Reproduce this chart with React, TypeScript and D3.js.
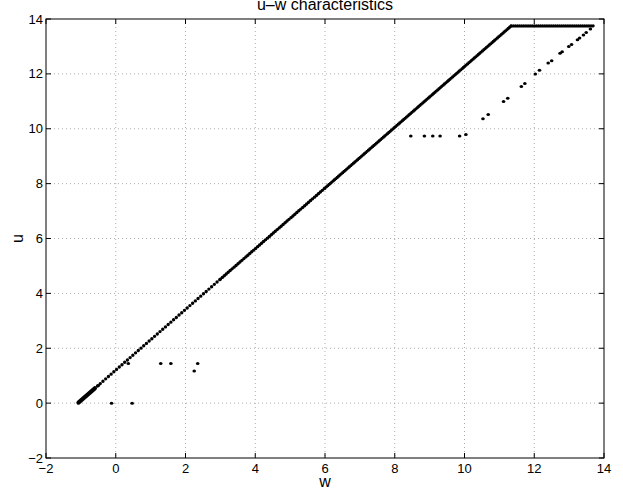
import React from "react";
import * as d3 from "d3";

const W_TICKS = [-2, 0, 2, 4, 6, 8, 10, 12, 14];
const U_TICKS = [-2, 0, 2, 4, 6, 8, 10, 12, 14];

// main characteristic (polyline knots)
const mainW = [-1.07, -0.6, 3.0, 6.0, 11.34, 13.7];
const mainU = [0.02, 0.54, 4.52, 7.84, 13.75, 13.75];

// scattered points
const scatterW = [-0.12, 0.47, 0.36, 1.29, 1.58, 2.25, 2.35, -0.5, 8.46, 8.85, 9.09, 9.3, 9.86, 10.04, 10.53, 10.68, 11.12, 11.24, 11.63, 11.73, 12.03, 12.15, 12.4, 12.5, 12.74, 12.8, 12.99, 13.07, 13.24, 13.3, 13.41, 13.49, 13.61];
const scatterU = [0, 0, 1.44, 1.44, 1.44, 1.17, 1.44, 0.64, 9.74, 9.74, 9.74, 9.74, 9.74, 9.79, 10.36, 10.52, 10.99, 11.11, 11.54, 11.65, 12.0, 12.13, 12.4, 12.48, 12.75, 12.81, 13.0, 13.07, 13.24, 13.31, 13.42, 13.51, 13.64];

const SEG_STYLE = [
  { w: 4.2, dash: "none" },
  { w: 3.4, dash: "0,3.6" },
  { w: 3.4, dash: "0,2.6" },
  { w: 3.3, dash: "0,1.8" },
  { w: 3.2, dash: "0,2.1" },
];

const FONT = "'Liberation Sans', Arial, Helvetica, sans-serif";

export default function App() {
  const L = 46, R = 604, T = 19, B = 458;
  const x = d3.scaleLinear().domain([-2, 14]).range([L, R]);
  const y = d3.scaleLinear().domain([-2, 14]).range([B, T]);
  const tickLen = 5;
  const fmt = (v: number) => (v < 0 ? "\u2212" + Math.abs(v) : String(v));

  const segs = mainW.slice(0, -1).map((_, i) => {
    const line = d3.line<number>().x((j) => x(mainW[j])).y((j) => y(mainU[j]));
    return line([i, i + 1]) as string;
  });

  return (
    <svg width={623} height={493} style={{ position: "absolute", left: 0, top: 0, background: "#fff" }} fontFamily={FONT}>
      <rect x={0} y={0} width={623} height={493} fill="#fff" />
      {/* grid */}
      {W_TICKS.slice(1, -1).map((t) => (
        <line key={"gx" + t} x1={x(t)} x2={x(t)} y1={T} y2={B} stroke="#999" strokeWidth={0.8} strokeDasharray="1,3" />
      ))}
      {U_TICKS.slice(1, -1).map((t) => (
        <line key={"gy" + t} x1={L} x2={R} y1={y(t)} y2={y(t)} stroke="#999" strokeWidth={0.8} strokeDasharray="1,3" />
      ))}
      {/* data */}
      {segs.map((d, i) => (
        <path key={"s" + i} d={d} fill="none" stroke="#000" strokeWidth={SEG_STYLE[i].w} strokeLinecap="round" strokeDasharray={SEG_STYLE[i].dash} />
      ))}
      {scatterW.map((w, i) => (
        <ellipse key={"p" + i} cx={x(w)} cy={y(scatterU[i])} rx={1.8} ry={1.5} fill="#000" />
      ))}
      {/* box */}
      <rect x={L} y={T} width={R - L} height={B - T} fill="none" stroke="#000" strokeWidth={1} />
      {/* ticks */}
      {W_TICKS.map((t) => (
        <g key={"tx" + t}>
          <line x1={x(t)} x2={x(t)} y1={B} y2={B - tickLen} stroke="#000" />
          <line x1={x(t)} x2={x(t)} y1={T} y2={T + tickLen} stroke="#000" />
          <text x={x(t)} y={473} fontSize={13} textAnchor="middle">{fmt(t)}</text>
        </g>
      ))}
      {U_TICKS.map((t) => (
        <g key={"ty" + t}>
          <line x1={L} x2={L + tickLen} y1={y(t)} y2={y(t)} stroke="#000" />
          <line x1={R} x2={R - tickLen} y1={y(t)} y2={y(t)} stroke="#000" />
          <text x={43} y={y(t) + 4.6} fontSize={13} textAnchor="end">{fmt(t)}</text>
        </g>
      ))}
      <text x={(L + R) / 2} y={10} fontSize={16} textAnchor="middle">u–w characteristics</text>
      <text x={(L + R) / 2} y={487} fontSize={16} textAnchor="middle">w</text>
      <text transform={`translate(23,${(T + B) / 2}) rotate(-90)`} fontSize={16} textAnchor="middle">u</text>
    </svg>
  );
}
